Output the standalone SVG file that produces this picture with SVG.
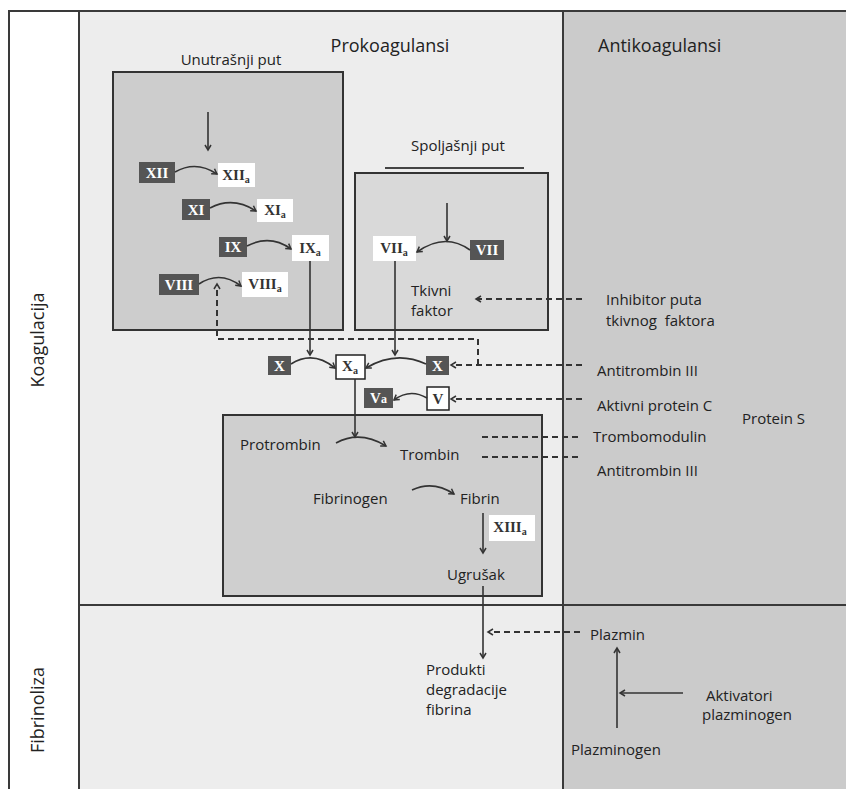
<svg xmlns="http://www.w3.org/2000/svg" width="846" height="789" viewBox="0 0 846 789">
<defs>
<marker id="ah" markerWidth="8" markerHeight="8" refX="6" refY="4" orient="auto" markerUnits="userSpaceOnUse">
<path d="M1,1 L6,4 L1,7" fill="none" stroke="#333" stroke-width="1.5"/>
</marker>
<style>
.frame{stroke:#3a3a3a;stroke-width:2;fill:none}
.box{stroke:#333;stroke-width:2}
.lbl{font-family:"Open Sans","Liberation Sans",sans-serif;font-size:15px;fill:#222}
.hdr{font-family:"Open Sans","Liberation Sans",sans-serif;font-size:18px;fill:#222}
.dk{fill:#555}
.wt{fill:#fff}
.num{font-family:"Liberation Serif","DejaVu Serif",serif;font-weight:bold;font-size:15px;text-anchor:middle}
.nd{fill:#fff}
.nw{fill:#333}
.c{fill:none;stroke:#333;stroke-width:1.6}
.d{fill:none;stroke:#333;stroke-width:2;stroke-dasharray:6,4}
</style>
</defs>
<rect x="0" y="0" width="846" height="789" fill="#fff"/>
<g id="background">
<rect x="79" y="11" width="484" height="778" fill="#ededed"/>
<rect x="563" y="11" width="283" height="778" fill="#cbcbcb"/>
<path class="frame" d="M9,789 L9,11 L846,11 M79,11 L79,789 M563,11 L563,789 M79,605 L846,605"/>
</g>
<g id="headers">
<text class="hdr" x="390" y="52" text-anchor="middle">Prokoagulansi</text>
<text class="hdr" x="598" y="52">Antikoagulansi</text>
<text class="hdr" text-anchor="middle" transform="translate(44,340) rotate(-90)">Koagulacija</text>
<text class="hdr" text-anchor="middle" transform="translate(44,710) rotate(-90)">Fibrinoliza</text>
</g>
<g id="intrinsic">
<text class="lbl" x="231" y="65" text-anchor="middle">Unutrašnji put</text>
<rect class="box" x="113" y="72" width="230" height="258" fill="#cdcdcd"/>
</g>
<g id="extrinsic">
<text class="lbl" x="411" y="151">Spoljašnji put</text>
<line x1="385" y1="168" x2="524" y2="168" stroke="#444" stroke-width="2"/>
<rect class="box" x="355" y="173" width="193" height="157" fill="#d9d9d9"/>
<text class="lbl" x="411" y="296">Tkivni</text>
<text class="lbl" x="411" y="316">faktor</text>
</g>
<g id="common">
<rect class="box" x="223" y="415" width="319" height="181" fill="#cfcfcf"/>
<text class="lbl" x="240" y="450">Protrombin</text>
<text class="lbl" x="400" y="460">Trombin</text>
<text class="lbl" x="313" y="504">Fibrinogen</text>
<text class="lbl" x="460" y="504">Fibrin</text>
<text class="lbl" x="447" y="580">Ugrušak</text>
</g>
<g id="n-XII"><rect class="dk" x="139" y="162" width="36" height="21"/><text class="num nd" x="157" y="178">XII</text></g>
<g id="n-XIIa"><rect class="wt" x="218" y="163" width="37" height="24"/><text class="num nw" x="236" y="180">XII<tspan font-size="10" dy="3">a</tspan></text></g>
<g id="n-XI"><rect class="dk" x="182" y="199" width="28" height="21"/><text class="num nd" x="196" y="215">XI</text></g>
<g id="n-XIa"><rect class="wt" x="257" y="199" width="36" height="23"/><text class="num nw" x="275" y="215">XI<tspan font-size="10" dy="3">a</tspan></text></g>
<g id="n-IX"><rect class="dk" x="219" y="237" width="28" height="20"/><text class="num nd" x="233" y="252">IX</text></g>
<g id="n-IXa"><rect class="wt" x="292" y="235" width="37" height="26"/><text class="num nw" x="310" y="253">IX<tspan font-size="10" dy="3">a</tspan></text></g>
<g id="n-VIII"><rect class="dk" x="159" y="274" width="40" height="21"/><text class="num nd" x="179" y="290">VIII</text></g>
<g id="n-VIIIa"><rect class="wt" x="242" y="272" width="46" height="25"/><text class="num nw" x="265" y="289">VIII<tspan font-size="10" dy="3">a</tspan></text></g>
<g id="n-VIIa"><rect class="wt" x="373" y="236" width="43" height="25"/><text class="num nw" x="394" y="253">VII<tspan font-size="10" dy="3">a</tspan></text></g>
<g id="n-VII"><rect class="dk" x="470" y="240" width="34" height="20"/><text class="num nd" x="487" y="255">VII</text></g>
<g id="n-X1"><rect class="dk" x="268" y="356" width="23" height="19"/><text class="num nd" x="279.5" y="371">X</text></g>
<g id="n-Xa"><rect class="wt" x="336" y="355" width="29" height="24" stroke="#222" stroke-width="1.5"/><text class="num nw" x="350" y="371">X<tspan font-size="10" dy="3">a</tspan></text></g>
<g id="n-X2"><rect class="dk" x="426" y="356" width="23" height="19"/><text class="num nd" x="437.5" y="371">X</text></g>
<g id="n-Va"><rect class="dk" x="364" y="388" width="29" height="20"/><text class="num nd" x="378.5" y="403">V<tspan font-size="12">a</tspan></text></g>
<g id="n-V"><rect class="wt" x="427" y="387" width="22" height="23" stroke="#222" stroke-width="1.5"/><text class="num nw" x="438" y="404">V</text></g>
<g id="n-XIIIa"><rect class="wt" x="489" y="515" width="46" height="26"/><text class="num nw" x="510" y="532">XIII<tspan font-size="10" dy="3">a</tspan></text></g>
<g id="anticoag">
<text class="lbl" x="606" y="305">Inhibitor puta</text>
<text class="lbl" x="606" y="326" style="white-space:pre">tkivnog  faktora</text>
<text class="lbl" x="597" y="376">Antitrombin III</text>
<text class="lbl" x="597" y="411">Aktivni protein C</text>
<text class="lbl" x="742" y="424">Protein S</text>
<text class="lbl" x="593" y="442">Trombomodulin</text>
<text class="lbl" x="597" y="476">Antitrombin III</text>
</g>
<g id="fibrinolysis">
<text class="lbl" x="590" y="640">Plazmin</text>
<text class="lbl" x="426" y="675">Produkti</text>
<text class="lbl" x="426" y="695">degradacije</text>
<text class="lbl" x="426" y="715">fibrina</text>
<text class="lbl" x="706" y="701">Aktivatori</text>
<text class="lbl" x="702" y="720">plazminogen</text>
<text class="lbl" x="571" y="755">Plazminogen</text>
</g>
<g id="connectors">
<path class="c" d="M208,112 L208,150" marker-end="url(#ah)"/>
<path class="c" d="M175,172 Q196,160 217,174" marker-end="url(#ah)"/>
<path class="c" d="M210,208 Q233,196 256,211" marker-end="url(#ah)"/>
<path class="c" d="M247,246 Q270,234 291,249" marker-end="url(#ah)"/>
<path class="c" d="M199,284 Q220,270 241,286" marker-end="url(#ah)"/>
<path class="c" d="M310,261 L310,355" marker-end="url(#ah)"/>
<path class="c" d="M447,203 L447,241" marker-end="url(#ah)"/>
<path class="c" d="M470,250 Q445,232 417,252" marker-end="url(#ah)"/>
<path class="c" d="M395,261 L395,355" marker-end="url(#ah)"/>
<path class="c" d="M291,364 Q313,350 335,368" marker-end="url(#ah)"/>
<path class="c" d="M426,364 Q396,350 366,368" marker-end="url(#ah)"/>
<path class="c" d="M427,398 Q410,388 394,400" marker-end="url(#ah)"/>
<path class="c" d="M355,379 L355,437" marker-end="url(#ah)"/>
<path class="c" d="M336,443 Q360,430 386,446" marker-end="url(#ah)"/>
<path class="c" d="M412,490 Q433,480 454,494" marker-end="url(#ah)"/>
<path class="c" d="M483,513 L483,553" marker-end="url(#ah)"/>
<path class="c" d="M483,586 L483,658" marker-end="url(#ah)"/>
<path class="c" d="M617,728 L617,648" marker-end="url(#ah)"/>
<path class="c" d="M683,693 L620,693" stroke-width="2" marker-end="url(#ah)"/>
<path class="d" d="M582,299 L476,299" marker-end="url(#ah)"/>
<path class="d" d="M582,365 L451,365" marker-end="url(#ah)"/>
<path class="d" d="M478,365 L478,339 L217,339 L217,284" marker-end="url(#ah)"/>
<path class="d" d="M582,399 L451,399" marker-end="url(#ah)"/>
<path class="d" d="M482,437 L582,437"/>
<path class="d" d="M482,457 L582,457"/>
<path class="d" d="M580,632 L488,632" marker-end="url(#ah)"/>
</g>
</svg>
